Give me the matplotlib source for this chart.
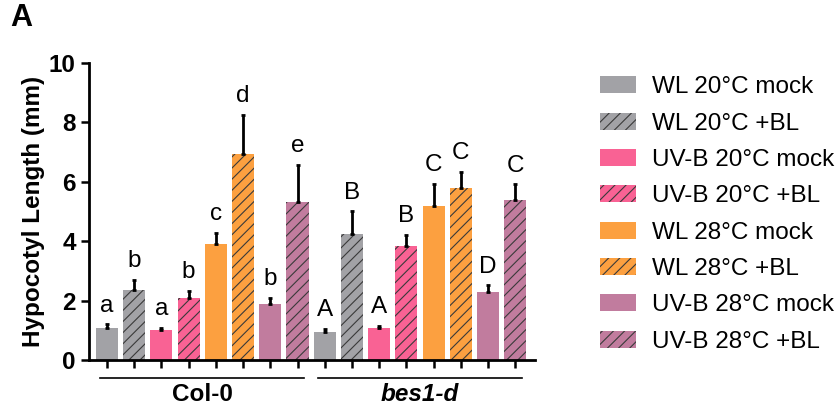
import matplotlib.pyplot as plt
import numpy as np
from matplotlib.transforms import blended_transform_factory

plt.rcParams['font.family'] = ['Liberation Sans', 'DejaVu Sans']
plt.rcParams['hatch.color'] = '#3a3a3a'
plt.rcParams['hatch.linewidth'] = 0.8

# hypocotyl length (mm), mean and upper SD, order: Col-0 then bes1-d
conditions = ['WL 20°C mock', 'WL 20°C +BL', 'UV-B 20°C mock', 'UV-B 20°C +BL',
              'WL 28°C mock', 'WL 28°C +BL', 'UV-B 28°C mock', 'UV-B 28°C +BL']
genotypes = ['Col-0', 'bes1-d']
col0_mean = [1.07, 2.36, 1.01, 2.08, 3.91, 6.93, 1.89, 5.33]
col0_err = [0.13, 0.34, 0.08, 0.26, 0.38, 1.33, 0.21, 1.24]
bes1_mean = [0.96, 4.25, 1.08, 3.85, 5.19, 5.79, 2.28, 5.39]
bes1_err = [0.09, 0.76, 0.08, 0.37, 0.75, 0.55, 0.23, 0.53]
col0_letters = ['a', 'b', 'a', 'b', 'c', 'd', 'b', 'e']
bes1_letters = ['A', 'B', 'A', 'B', 'C', 'C', 'D', 'C']

colors = ['#a2a2a6', '#a2a2a6', '#f96294', '#f96294',
          '#fca040', '#fca040', '#c17c9e', '#c17c9e']
hatches = [None, '///'] * 4
fs = 17.5

fig = plt.figure(figsize=(8.4, 4.11), dpi=100)
ax = fig.add_axes([0.106, 0.124, 0.531, 0.723])

means = col0_mean + bes1_mean
errs = col0_err + bes1_err
letters = col0_letters + bes1_letters
x = np.arange(len(means))

for i in range(len(means)):
    k = i % 8
    ax.bar(x[i], means[i], width=0.81, color=colors[k], hatch=hatches[k],
           label=conditions[k] if i < 8 else None)
ax.errorbar(x, means, yerr=[np.zeros(len(errs)), errs], fmt='none',
            ecolor='black', elinewidth=2, capsize=1.5, capthick=2)
for i in range(len(means)):
    ax.text(x[i], means[i] + errs[i] + 0.42, letters[i], ha='center',
            va='baseline', fontsize=fs)

ax.set_xlim(-0.66, 15.73)
ax.set_ylim(0, 10)
ax.set_yticks([0, 2, 4, 6, 8, 10])
ax.set_yticklabels(['0', '2', '4', '6', '8', '10'], fontsize=fs, fontweight='bold')
ax.set_xticks(x)
ax.set_xticklabels([])
ax.tick_params(axis='both', length=6, width=1.8, direction='out')
ax.set_ylabel('Hypocotyl Length (mm)', fontsize=fs, fontweight='bold', labelpad=3)
for s in ['top', 'right']:
    ax.spines[s].set_visible(False)
for s in ['left', 'bottom']:
    ax.spines[s].set_linewidth(2)

# genotype brackets under the axis
tr = blended_transform_factory(ax.transData, ax.transAxes)
for g, name in enumerate(genotypes):
    lo, hi = g * 8 - 0.26, g * 8 + 7 + 0.24
    ax.plot([lo, hi], [-0.062, -0.062], color='black', lw=1.2,
            transform=tr, clip_on=False)
    ax.text((lo + hi) / 2, -0.115, name, transform=tr, ha='center', va='center',
            fontsize=fs, fontweight='bold', style='normal' if g == 0 else 'italic')

ax.legend(loc='upper left', bbox_to_anchor=(1.146, 0.955), frameon=False,
          fontsize=fs, handlelength=1.48, handleheight=0.7, handletextpad=0.66,
          labelspacing=0.59, borderaxespad=0, borderpad=0)

fig.text(0.012, 0.955, 'A', fontsize=22, fontweight='bold', va='center')

fig.savefig('out.png', dpi=100)
